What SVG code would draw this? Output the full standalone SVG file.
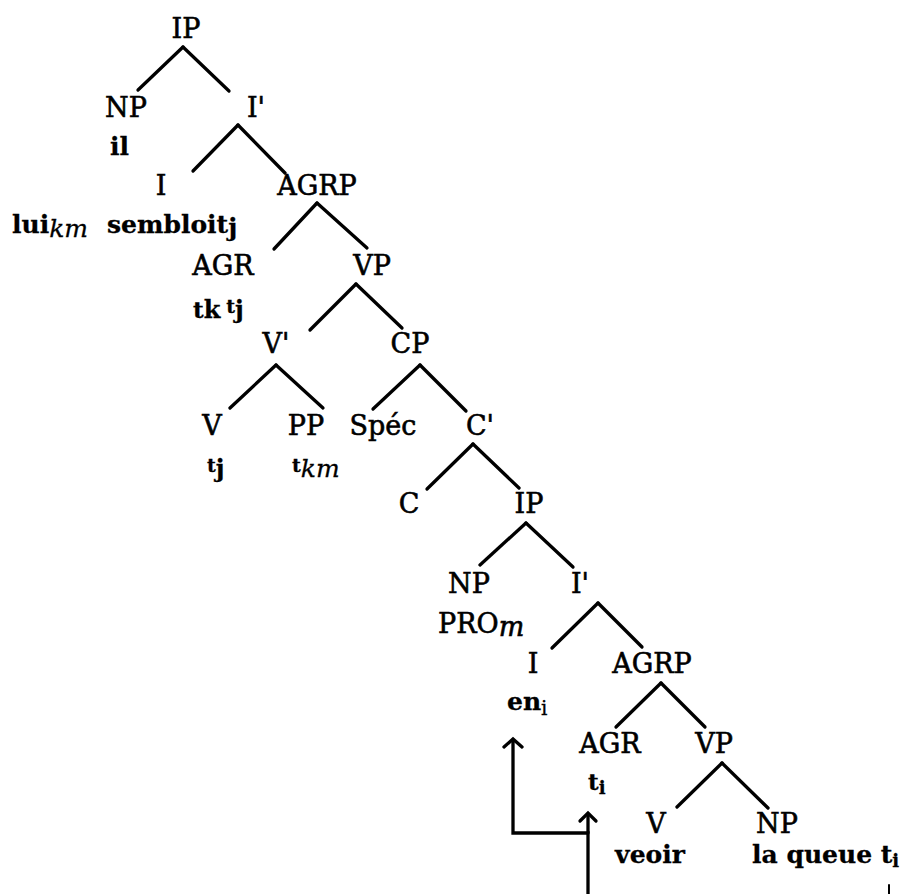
<svg xmlns="http://www.w3.org/2000/svg" width="902" height="894" viewBox="0 0 902 894">
<style>
text{font-family:"DejaVu Serif","Liberation Serif",serif;fill:#000;stroke:#000;stroke-width:0.6}
.c{font-size:27px;text-anchor:middle}
.r{font-size:27px}
.b{font-weight:bold;font-size:25px;stroke-width:0.3}
.it{font-style:italic;font-weight:normal}
.edges line,.edges polyline{stroke:#000;stroke-width:3.3;fill:none;stroke-linecap:round}
.edges line.tick{stroke-width:2}
</style>
<rect width="902" height="894" fill="#fff"/>
<g class="edges" id="connectors">
<line x1="183" y1="47" x2="138" y2="90"/><line x1="183" y1="47" x2="229" y2="91"/>
<line x1="238" y1="125" x2="193" y2="171"/><line x1="238" y1="125" x2="285" y2="173"/>
<line x1="317" y1="203" x2="274" y2="249"/><line x1="317" y1="203" x2="367" y2="248"/>
<line x1="356" y1="284" x2="310" y2="330"/><line x1="356" y1="284" x2="402" y2="328"/>
<line x1="276" y1="365" x2="230" y2="408"/><line x1="276" y1="365" x2="323" y2="408"/>
<line x1="420" y1="365" x2="373" y2="409"/><line x1="420" y1="365" x2="466" y2="411"/>
<line x1="473" y1="444" x2="427" y2="489"/><line x1="473" y1="444" x2="519" y2="488"/>
<line x1="526" y1="523" x2="480" y2="565"/><line x1="526" y1="523" x2="573" y2="567"/>
<line x1="598" y1="603" x2="552" y2="648"/><line x1="598" y1="603" x2="642" y2="647"/>
<line x1="661" y1="683" x2="616" y2="727"/><line x1="661" y1="683" x2="705" y2="727"/>
<line x1="722" y1="763" x2="677" y2="807"/><line x1="722" y1="763" x2="768" y2="808"/>
<polyline points="588,894 588,833 513,833 513,740"/>
<polyline points="504,747 513,739 522,747"/>
<line x1="588" y1="833" x2="588" y2="814"/>
<polyline points="580,821 588,813 596,821"/>
<line class="tick" x1="889" y1="885" x2="889" y2="894"/>
</g>
<g id="ip1"><text class="c" x="186" y="38">IP</text></g>
<g id="np1"><text class="c" x="126" y="117">NP</text><text class="b" x="110" y="155">il</text></g>
<g id="ibar1"><text class="c" x="256" y="117">I'</text></g>
<g id="i1"><text class="c" x="161" y="195">I</text>
<text class="b" x="12" y="233">lui<tspan class="it" dy="4">km</tspan></text>
<text class="b" x="107" y="233">sembloit<tspan dy="3">j</tspan></text></g>
<g id="agrp1"><text class="c" x="317" y="195">AGRP</text></g>
<g id="agr1"><text class="c" x="223" y="275">AGR</text>
<text class="b" x="193" y="318"><tspan font-size="23">t</tspan><tspan font-size="24">k</tspan><tspan font-size="19" dx="6" dy="-5">t</tspan><tspan font-size="24" dy="5">j</tspan></text></g>
<g id="vp1"><text class="c" x="372" y="275">VP</text></g>
<g id="vbar"><text class="c" x="276" y="353">V'</text></g>
<g id="cp"><text class="c" x="410" y="353">CP</text></g>
<g id="v1"><text class="c" x="212" y="435">V</text>
<text class="b" x="207" y="477"><tspan font-size="19" dy="-5">t</tspan><tspan font-size="24" dy="5">j</tspan></text></g>
<g id="pp"><text class="c" x="306" y="435">PP</text>
<text class="b" x="292" y="477"><tspan font-size="19" dy="-5">t</tspan><tspan class="it" font-size="25" dy="5">km</tspan></text></g>
<g id="spec"><text class="c" x="383" y="435">Spéc</text></g>
<g id="cbar"><text class="c" x="480" y="435">C'</text></g>
<g id="c"><text class="c" x="409" y="513">C</text></g>
<g id="ip2"><text class="c" x="529" y="513">IP</text></g>
<g id="np2"><text class="c" x="469" y="593">NP</text>
<text class="r" x="438" y="633">PRO<tspan class="it" dy="3">m</tspan></text></g>
<g id="ibar2"><text class="c" x="580" y="593">I'</text></g>
<g id="i2"><text class="c" x="533" y="673">I</text>
<text class="b" x="507" y="710">en<tspan font-weight="normal" font-size="20" dy="5">i</tspan></text></g>
<g id="agrp2"><text class="c" x="652" y="673">AGRP</text></g>
<g id="agr2"><text class="c" x="610" y="753">AGR</text>
<text class="b" x="588" y="790"><tspan font-size="23">t</tspan><tspan font-size="18" dy="4">i</tspan></text></g>
<g id="vp2"><text class="c" x="714" y="753">VP</text></g>
<g id="v2"><text class="c" x="656" y="833">V</text>
<text class="b" x="650" y="863" text-anchor="middle">veoir</text></g>
<g id="np3"><text class="c" x="777" y="833">NP</text>
<text class="b" x="752" y="863">la queue t<tspan font-size="18" dy="4">i</tspan></text></g>
</svg>
